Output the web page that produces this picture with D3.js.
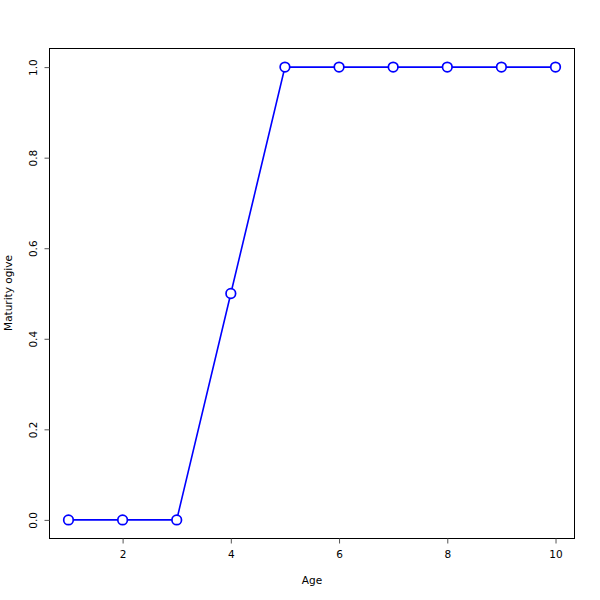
<!DOCTYPE html>
<html><head><meta charset="utf-8">
<script src="https://cdn.jsdelivr.net/npm/d3@7"></script>
<style>body{margin:0;background:#fff}svg{display:block}text{font-family:"DejaVu Sans",sans-serif;fill:#000}</style>
</head><body>
<script>
const ages = [1,2,3,4,5,6,7,8,9,10];
const maturity = [0,0,0,0.5,1,1,1,1,1,1];
const xTicks = [2,4,6,8,10];
const yTicks = [0,0.2,0.4,0.6,0.8,1.0];
const xTitle = "Age", yTitle = "Maturity ogive";

const W=600,H=600, L=49, R=575, T=48, B=538;
const svg=d3.select("body").append("svg").attr("width",W).attr("height",H);
const x=d3.scaleLinear().domain([0.64,10.36]).range([L,R]);
const y=d3.scaleLinear().domain([-0.04,1.04]).range([B,T+1]);

svg.append("rect").attr("x",L+0.5).attr("y",T+0.5).attr("width",R-L-1).attr("height",B-T)
  .attr("fill","none").attr("stroke","#000").attr("stroke-width",1);

const gx=svg.append("g").attr("transform",`translate(0,${B+0.5})`)
  .call(d3.axisBottom(x).tickValues(xTicks).tickSize(5).tickPadding(7).tickFormat(d3.format("d")));
gx.select(".domain").remove();
const gy=svg.append("g").attr("transform",`translate(${L+0.5},0)`)
  .call(d3.axisLeft(y).tickValues(yTicks).tickSize(5).tickPadding(0).tickFormat(d3.format(".1f")));
gy.select(".domain").remove();
[gx,gy].forEach(g=>{g.selectAll("text").style("font-size","10.5px").style("font-family","DejaVu Sans, sans-serif");g.selectAll("line").attr("stroke","#555");});
gy.selectAll(".tick text").attr("text-anchor","middle").attr("x",0).attr("dy",0)
  .attr("transform","translate(-13,0) rotate(-90)");

svg.append("text").attr("x",(L+R)/2).attr("y",584).attr("text-anchor","middle").style("font-size","10.5px").text(xTitle);
svg.append("text").attr("transform",`translate(12,${(T+B)/2}) rotate(-90)`).attr("text-anchor","middle").style("font-size","10.5px").text(yTitle);

const line=d3.line().x((d,i)=>x(ages[i])).y(d=>y(d));
svg.append("path").datum(maturity).attr("d",line).attr("fill","none").attr("stroke","#0000ff").attr("stroke-width",1.6);
svg.selectAll("circle.p").data(maturity).enter().append("circle")
  .attr("cx",(d,i)=>x(ages[i])).attr("cy",d=>y(d)).attr("r",4.8)
  .attr("fill","#fff").attr("stroke","#0000ff").attr("stroke-width",1.7);
</script>
</body></html>
